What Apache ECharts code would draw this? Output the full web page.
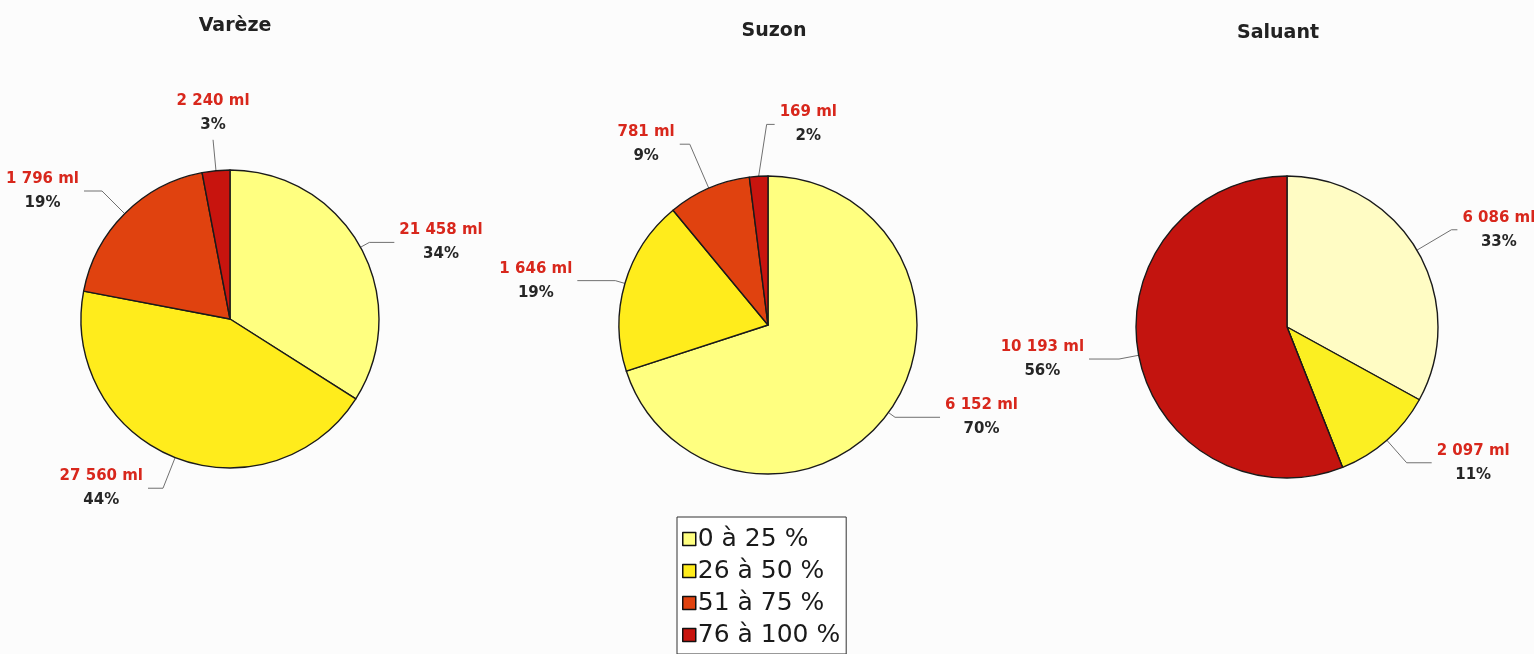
<!DOCTYPE html>
<html>
<head>
<meta charset="utf-8">
<script src="https://cdn.jsdelivr.net/npm/echarts@6/dist/echarts.min.js"></script>
<style>
  html, body { margin: 0; padding: 0; background: #fcfcfc; }
  #chart { width: 1534px; height: 654px; }
</style>
</head>
<body>
<div id="chart"></div>
<script>
// classes of the legend (same order in every pie, clockwise from 12 o'clock)
const classes = ['0 à 25 %', '26 à 50 %', '51 à 75 %', '76 à 100 %'];

const pieNames = ['Varèze', 'Suzon', 'Saluant'];

// share of each class, in %
const varezePct = [34, 44, 19, 3];
const suzonPct = [70, 19, 9, 2];
const saluantPct = [33, 11, 0, 56];

// linear metres written on the labels
const varezeMl = [21458, 27560, 1796, 2240];
const suzonMl = [6152, 1646, 781, 169];
const saluantMl = [6086, 2097, 0, 10193];

const colors = ['#ffff80', '#ffec1c', '#e0420f', '#c8140e'];
const saluantColors = ['#fffcc4', '#fbef22', '#e0420f', '#c3140f'];

// leader lines: [radial length, horizontal length, special placement]
const varezeLeaders = [[10, 25], [33, 15], [32, 18], [31, 0, 'above']];
const suzonLeaders = [[8, 45], [10, 38], [48, 10], [52, 0, 'right']];
const saluantLeaders = [[40, 6], [30, 25], [0, 0], [20, 30]];

const font = 'DejaVu Sans, Verdana, sans-serif';

function fmtMl(v) {
  return String(v).replace(/\B(?=(\d{3})+(?!\d))/g, ' ') + ' ml';
}

function pieSeries(name, pct, ml, leaders, center, radius, cols) {
  return {
    type: 'pie',
    name: name,
    center: center,
    radius: radius,
    startAngle: 90,
    clockwise: true,
    avoidLabelOverlap: false,
    animation: false,
    itemStyle: { borderColor: '#1a1a1a', borderWidth: 1.4 },
    emphasis: { disabled: true },
    label: {
      position: 'outside',
      distanceToLabelLine: 5,
      fontFamily: font,
      fontWeight: 'bold',
      fontSize: 15,
      rich: {
        a: { color: '#d8271c', fontFamily: font, fontSize: 15, fontWeight: 'bold', lineHeight: 24, align: 'center' },
        b: { color: '#262626', fontFamily: font, fontSize: 15, fontWeight: 'bold', lineHeight: 24, align: 'center' }
      }
    },
    labelLine: { show: true, lineStyle: { color: '#707070', width: 1 } },
    labelLayout: function (p) {
      const lead = leaders[p.dataIndex];
      const pts = p.labelLinePoints;
      if (!pts || !lead[2]) return {};
      const end = pts[1];
      if (lead[2] === 'above') {
        return { x: end[0], y: end[1] - 3, align: 'center', verticalAlign: 'bottom',
          labelLinePoints: [pts[0], end, end] };
      }
      const bend = [pts[0][0] + 8, end[1]];
      const tip = [bend[0] + 8, end[1]];
      return { x: tip[0] + 5, y: tip[1], align: 'left', verticalAlign: 'middle',
        labelLinePoints: [pts[0], bend, tip] };
    },
    data: classes.map(function (c, i) {
      const show = pct[i] > 0;
      return {
        name: c,
        value: pct[i],
        itemStyle: { color: cols[i] },
        label: { show: show, formatter: '{a|' + fmtMl(ml[i]) + '}\n{b|' + pct[i] + '%}' },
        labelLine: { show: show, length: leaders[i][0], length2: leaders[i][1] }
      };
    })
  };
}

const chart = echarts.init(document.getElementById('chart'));
chart.setOption({
  backgroundColor: '#fcfcfc',
  title: [
    { text: pieNames[0], left: 230, top: 12 },
    { text: pieNames[1], left: 769, top: 17 },
    { text: pieNames[2], left: 1273, top: 19 }
  ].map(function (t) {
    t.textAlign = 'center';
    t.textStyle = { fontFamily: font, fontWeight: 'bold', fontSize: 19, color: '#222' };
    return t;
  }),
  legend: {
    orient: 'vertical',
    left: 677,
    top: 517,
    data: classes,
    icon: 'rect',
    itemWidth: 13,
    itemHeight: 13,
    itemGap: 6,
    padding: [9, 6, 6, 5],
    backgroundColor: '#fff',
    borderColor: '#333',
    borderWidth: 1,
    borderRadius: 0,
    selectedMode: false,
    itemStyle: { borderColor: '#111', borderWidth: 1.5 },
    textStyle: { fontFamily: font, fontSize: 25, lineHeight: 26, color: '#1a1a1a', padding: [0, 0, 0, -3] }
  },
  series: [
    pieSeries(pieNames[0], varezePct, varezeMl, varezeLeaders, [230, 319], 149, colors),
    pieSeries(pieNames[1], suzonPct, suzonMl, suzonLeaders, [768, 325], 149, colors),
    pieSeries(pieNames[2], saluantPct, saluantMl, saluantLeaders, [1287, 327], 151, saluantColors)
  ]
});
</script>
</body>
</html>
